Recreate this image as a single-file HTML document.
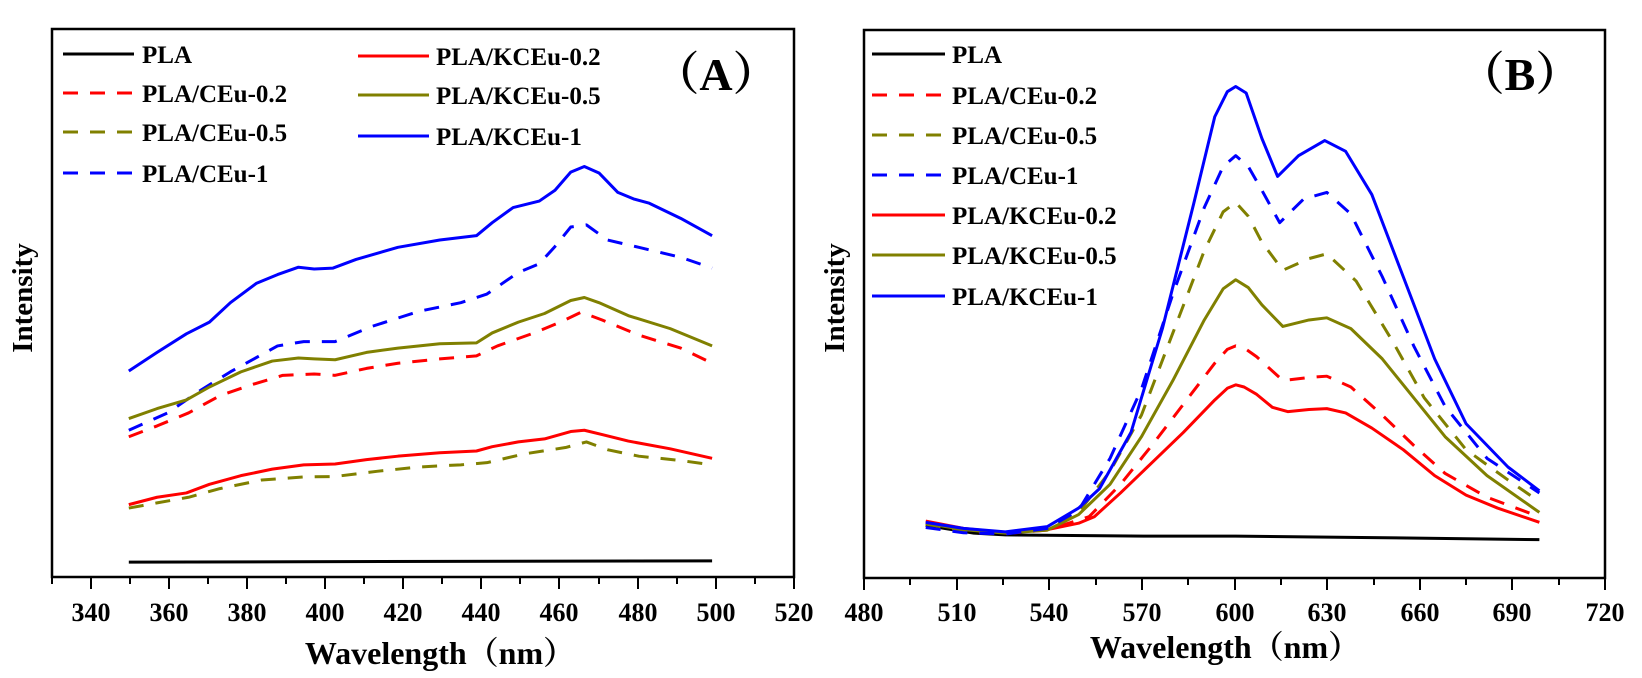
<!DOCTYPE html>
<html><head><meta charset="utf-8"><style>
html,body{margin:0;padding:0;background:#fff}
svg{display:block}
text{font-family:"Liberation Serif","Noto Serif CJK SC",serif;font-weight:bold;fill:#000}
.c{fill:none;stroke-width:3;vector-effect:non-scaling-stroke;stroke-linejoin:round}
.d{stroke-dasharray:15 12}
</style></head><body>
<svg width="1642" height="678" viewBox="0 0 1642 678" xmlns="http://www.w3.org/2000/svg">
<rect x="52" y="29" width="742" height="548" fill="none" stroke="#000" stroke-width="2.5"/>
<rect x="864" y="30" width="741" height="548" fill="none" stroke="#000" stroke-width="2.5"/>
<g stroke="#000" stroke-width="2">
<line x1="91" y1="577" x2="91" y2="589"/><line x1="169" y1="577" x2="169" y2="589"/><line x1="247" y1="577" x2="247" y2="589"/><line x1="325" y1="577" x2="325" y2="589"/><line x1="403" y1="577" x2="403" y2="589"/><line x1="481" y1="577" x2="481" y2="589"/><line x1="559" y1="577" x2="559" y2="589"/><line x1="638" y1="577" x2="638" y2="589"/><line x1="716" y1="577" x2="716" y2="589"/><line x1="794" y1="577" x2="794" y2="589"/>
<line x1="52" y1="577" x2="52" y2="584"/><line x1="130" y1="577" x2="130" y2="584"/><line x1="208" y1="577" x2="208" y2="584"/><line x1="286" y1="577" x2="286" y2="584"/><line x1="364" y1="577" x2="364" y2="584"/><line x1="442" y1="577" x2="442" y2="584"/><line x1="520" y1="577" x2="520" y2="584"/><line x1="599" y1="577" x2="599" y2="584"/><line x1="677" y1="577" x2="677" y2="584"/><line x1="755" y1="577" x2="755" y2="584"/>
<line x1="864" y1="578" x2="864" y2="590"/><line x1="957" y1="578" x2="957" y2="590"/><line x1="1049" y1="578" x2="1049" y2="590"/><line x1="1142" y1="578" x2="1142" y2="590"/><line x1="1235" y1="578" x2="1235" y2="590"/><line x1="1327" y1="578" x2="1327" y2="590"/><line x1="1420" y1="578" x2="1420" y2="590"/><line x1="1512" y1="578" x2="1512" y2="590"/><line x1="1605" y1="578" x2="1605" y2="590"/>
<line x1="910" y1="578" x2="910" y2="585"/><line x1="1003" y1="578" x2="1003" y2="585"/><line x1="1096" y1="578" x2="1096" y2="585"/><line x1="1188" y1="578" x2="1188" y2="585"/><line x1="1281" y1="578" x2="1281" y2="585"/><line x1="1374" y1="578" x2="1374" y2="585"/><line x1="1466" y1="578" x2="1466" y2="585"/><line x1="1559" y1="578" x2="1559" y2="585"/>
</g>
<g font-size="26" text-anchor="middle">
<text x="91" y="621">340</text><text x="169" y="621">360</text><text x="247" y="621">380</text><text x="325" y="621">400</text><text x="403" y="621">420</text><text x="481" y="621">440</text><text x="559" y="621">460</text><text x="638" y="621">480</text><text x="716" y="621">500</text><text x="794" y="621">520</text>
<text x="864" y="621">480</text><text x="957" y="621">510</text><text x="1049" y="621">540</text><text x="1142" y="621">570</text><text x="1235" y="621">600</text><text x="1327" y="621">630</text><text x="1420" y="621">660</text><text x="1512" y="621">690</text><text x="1605" y="621">720</text>
</g>
<text x="440" y="664" font-size="32" text-anchor="middle">Wavelength（nm）</text>
<text x="1225" y="658" font-size="32" text-anchor="middle">Wavelength（nm）</text>
<text transform="translate(32,298) rotate(-90)" font-size="29" text-anchor="middle">Intensity</text>
<text transform="translate(844,298) rotate(-90)" font-size="29" text-anchor="middle">Intensity</text>
<text x="716" y="90" font-size="46" text-anchor="middle">（A）</text>
<text x="1520" y="90" font-size="46" text-anchor="middle">（B）</text>
<g font-size="25">
<line x1="63" y1="54" x2="134" y2="54" stroke="#000" stroke-width="3"/><text x="142" y="63">PLA</text>
<line x1="63" y1="93" x2="134" y2="93" stroke="#f00" stroke-width="3" style="stroke-dasharray:15 12"/><text x="142" y="102">PLA/CEu-0.2</text>
<line x1="63" y1="132" x2="134" y2="132" stroke="#808000" stroke-width="3" style="stroke-dasharray:15 12"/><text x="142" y="141">PLA/CEu-0.5</text>
<line x1="63" y1="173" x2="134" y2="173" stroke="#00f" stroke-width="3" style="stroke-dasharray:15 12"/><text x="142" y="182">PLA/CEu-1</text>
<line x1="358" y1="56" x2="429" y2="56" stroke="#f00" stroke-width="3"/><text x="436" y="65">PLA/KCEu-0.2</text>
<line x1="358" y1="95" x2="429" y2="95" stroke="#808000" stroke-width="3"/><text x="436" y="104">PLA/KCEu-0.5</text>
<line x1="358" y1="136" x2="429" y2="136" stroke="#00f" stroke-width="3"/><text x="436" y="145">PLA/KCEu-1</text>
<line x1="872" y1="54" x2="945" y2="54" stroke="#000" stroke-width="3"/><text x="952" y="63">PLA</text>
<line x1="872" y1="95" x2="945" y2="95" stroke="#f00" stroke-width="3" style="stroke-dasharray:15 12"/><text x="952" y="104">PLA/CEu-0.2</text>
<line x1="872" y1="135" x2="945" y2="135" stroke="#808000" stroke-width="3" style="stroke-dasharray:15 12"/><text x="952" y="144">PLA/CEu-0.5</text>
<line x1="872" y1="175" x2="945" y2="175" stroke="#00f" stroke-width="3" style="stroke-dasharray:15 12"/><text x="952" y="184">PLA/CEu-1</text>
<line x1="872" y1="215" x2="945" y2="215" stroke="#f00" stroke-width="3"/><text x="952" y="224">PLA/KCEu-0.2</text>
<line x1="872" y1="255" x2="945" y2="255" stroke="#808000" stroke-width="3"/><text x="952" y="264">PLA/KCEu-0.5</text>
<line x1="872" y1="296" x2="945" y2="296" stroke="#00f" stroke-width="3"/><text x="952" y="305">PLA/KCEu-1</text>
</g>
<g transform="scale(1.0472,0.4324)">
<polyline class="c" stroke="#000" points="123,1300 680,1297"/>
<polyline class="c" stroke="#00f" points="123,858 150,815 178,772 200,745 220,700 245,655 265,635 285,618 300,622 318,620 340,600 380,572 420,555 455,545 470,515 490,480 515,465 530,440 545,398 558,385 572,400 590,445 605,460 620,470 650,505 680,545"/>
<polyline class="c d" stroke="#00f" points="123,995 160,955 190,905 220,860 265,800 290,790 320,790 355,755 400,720 440,700 465,680 495,630 515,610 530,570 545,525 560,520 580,555 610,572 650,595 680,620"/>
<polyline class="c" stroke="#808000" points="123,968 150,945 178,925 200,895 230,860 260,835 285,828 300,830 320,832 350,815 380,805 420,795 455,793 470,770 495,745 520,725 545,695 558,688 572,700 600,730 640,760 680,800"/>
<polyline class="c d" stroke="#f00" points="123,1010 150,985 180,955 210,915 240,890 270,868 300,865 320,868 350,852 380,840 420,830 455,823 475,800 510,770 535,745 555,722 575,740 610,775 650,805 680,840"/>
<polyline class="c" stroke="#f00" points="123,1167 150,1150 178,1140 200,1120 230,1100 260,1085 290,1075 320,1073 350,1063 380,1055 420,1047 455,1043 470,1033 495,1022 520,1015 545,998 558,995 575,1005 600,1020 640,1038 680,1060"/>
<polyline class="c d" stroke="#808000" points="123,1175 150,1163 180,1150 210,1130 250,1110 290,1103 320,1102 360,1090 400,1080 440,1075 465,1070 500,1050 540,1035 560,1022 580,1040 610,1055 650,1065 680,1075"/>
<polyline class="c" stroke="#000" points="884,1215 930,1233 960,1237 1100,1240 1180,1240 1300,1243 1470,1248"/>
<polyline class="c" stroke="#f00" points="884,1205 920,1222 960,1232 1000,1225 1030,1210 1045,1195 1070,1140 1100,1070 1130,1000 1160,925 1172,898 1180,890 1188,895 1200,912 1215,942 1230,952 1250,947 1267,945 1285,955 1310,990 1340,1040 1370,1100 1400,1145 1430,1175 1470,1208"/>
<polyline class="c d" stroke="#f00" points="884,1210 920,1228 960,1234 1000,1226 1040,1195 1070,1120 1100,1030 1130,935 1160,840 1172,808 1180,800 1190,808 1200,825 1225,880 1250,873 1267,870 1290,895 1320,960 1350,1030 1380,1095 1420,1150 1470,1195"/>
<polyline class="c" stroke="#808000" points="884,1210 920,1225 960,1233 1000,1226 1030,1190 1060,1120 1090,1010 1120,880 1150,740 1168,668 1180,647 1192,665 1205,705 1225,755 1250,740 1267,735 1290,760 1320,830 1350,920 1380,1010 1420,1100 1470,1185"/>
<polyline class="c d" stroke="#808000" points="884,1212 920,1227 960,1233 1000,1224 1030,1185 1060,1090 1090,960 1120,770 1150,580 1168,490 1180,468 1192,500 1205,560 1225,625 1250,598 1267,587 1295,650 1330,790 1360,920 1400,1040 1440,1110 1470,1160"/>
<polyline class="c d" stroke="#00f" points="884,1220 920,1232 960,1235 1000,1222 1030,1180 1060,1060 1090,900 1120,680 1150,480 1168,385 1180,360 1192,385 1205,440 1222,515 1245,460 1267,445 1290,495 1320,640 1350,800 1380,940 1420,1060 1470,1140"/>
<polyline class="c" stroke="#00f" points="884,1208 920,1222 960,1230 1000,1218 1030,1175 1050,1130 1080,1000 1110,760 1140,470 1160,270 1172,212 1180,200 1190,215 1205,320 1220,408 1240,360 1265,325 1285,350 1310,450 1340,640 1370,830 1400,980 1440,1080 1470,1135"/>
</g>
</svg>
</body></html>
